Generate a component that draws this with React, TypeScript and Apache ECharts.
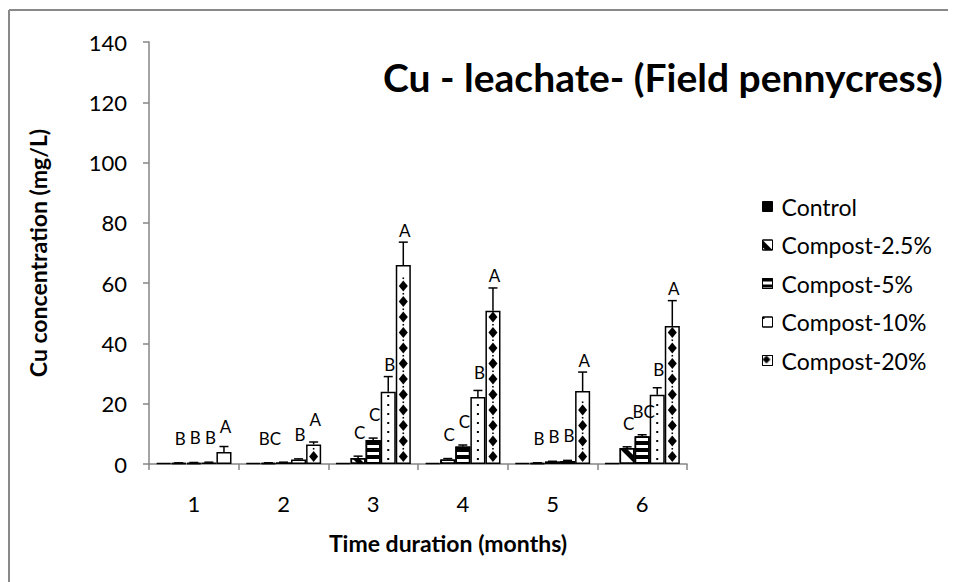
import React, { useEffect, useRef } from 'react';
import * as echarts from 'echarts';

const categories = ['1', '2', '3', '4', '5', '6'];
const seriesNames = ['Control', 'Compost-2.5%', 'Compost-5%', 'Compost-10%', 'Compost-20%'];
const yTicks = { min: 0, max: 140, interval: 20 };

const control = [0.3, 0.3, 0.3, 0.3, 0.3, 0.3];
const compost25 = [0.3, 0.3, 2.0, 1.5, 0.3, 5.3];
const compost5 = [0.4, 0.5, 8.0, 5.8, 0.8, 9.2];
const compost10 = [0.5, 1.5, 24.0, 22.2, 1.0, 23.0];
const compost20 = [4.0, 6.5, 66.0, 50.8, 24.2, 45.8];

const errControl = [0, 0, 0, 0, 0, 0];
const err25 = [0.1, 0.1, 0.6, 0.3, 0.1, 0.4];
const err5 = [0.1, 0.1, 0.6, 0.5, 0.1, 0.5];
const err10 = [0.1, 0.2, 5.0, 2.2, 0.2, 2.3];
const err20 = [1.8, 0.8, 7.6, 7.6, 6.3, 8.4];

const letControl = ['', '', '', '', '', ''];
const let25 = ['B', 'BC', 'C', 'C', 'B', 'C'];
const let5 = ['B', '', 'C', 'C', 'B', 'BC'];
const let10 = ['B', 'B', 'B', 'B', 'B', 'B'];
const let20 = ['A', 'A', 'A', 'A', 'A', 'A'];

const values = [control, compost25, compost5, compost10, compost20];
const errors = [errControl, err25, err5, err10, err20];
const letters = [letControl, let25, let5, let10, let20];

const FONT = 'Lato';
const CAT_GAP = 0.16;

export default function App() {
  const ref = useRef<HTMLDivElement>(null);
  useEffect(() => {
    if (!ref.current) return;
    const chart = echarts.init(ref.current, null, { renderer: 'svg' });

    const decals: any[] = [
      null,
      { symbol: 'rect', symbolSize: 1, dashArrayX: [1, 0], dashArrayY: [5, 9], rotation: Math.PI / 4, color: '#000' },
      { symbol: 'rect', symbolSize: 1, dashArrayX: [1, 0], dashArrayY: [4, 3], rotation: 0, color: '#000' },
      null,
      null,
    ];
    const legendDecals: any[] = [
      null,
      decals[1],
      { symbol: 'rect', symbolSize: 1, dashArrayX: [1, 0], dashArrayY: [3, 3], rotation: 0, color: '#000' },
      { symbol: 'rect', symbolSize: 1, dashArrayX: [2, 8], dashArrayY: [2, 8], rotation: 0, color: '#000' },
      { symbol: 'diamond', symbolSize: 1, dashArrayX: [8, 2], dashArrayY: [8, 2], rotation: 0, color: '#000' },
    ];

    const barSeries = seriesNames.map((name, i) => ({
      name,
      type: 'bar',
      barGap: '0%',
      barCategoryGap: CAT_GAP * 100 + '%',
      data: values[i],
      itemStyle: {
        color: i === 0 ? '#000' : '#fff',
        borderColor: '#000',
        borderWidth: 1.5,
        ...(decals[i] ? { decal: decals[i] } : {}),
      },
      z: 2,
    }));

    const errData: number[][] = [];
    for (let s = 0; s < values.length; s++) {
      for (let c = 0; c < categories.length; c++) {
        errData.push([c, values[s][c], errors[s][c], s]);
      }
    }

    const errSeries = {
      name: 'errors',
      type: 'custom',
      z: 5,
      clip: false,
      encode: { x: 0, y: 1 },
      data: errData,
      renderItem: (params: any, api: any) => {
        const cat = api.value(0);
        const v = api.value(1);
        const e = api.value(2);
        const s = api.value(3);
        const center = api.coord([cat, 0]);
        const base = center[1];
        const band = api.size([1, 0])[0];
        const total = band * (1 - CAT_GAP);
        const w = total / values.length;
        const x = center[0] - total / 2 + w * (s + 0.5);
        const yTop = api.coord([cat, v])[1];
        const yErr = api.coord([cat, v + e])[1];
        const children: any[] = [];
        // fill patterns drawn inside the bar
        if (s === 4) {
          const period = 15.5;
          for (let cy = base - 7.5; cy - 5 >= yTop + 1; cy -= period) {
            children.push({
              type: 'polygon',
              shape: { points: [[x, cy - 5.5], [x + 4.5, cy], [x, cy + 5.5], [x - 4.5, cy]] },
              style: { fill: '#000' },
            });
            const dy = cy - period / 2;
            if (dy - 1 > yTop + 1) {
              children.push({ type: 'rect', shape: { x: x - 0.8, y: dy - 0.8, width: 1.6, height: 1.6 }, style: { fill: '#000' } });
            }
          }
        } else if (s === 3) {
          for (let cy = base - 5; cy - 1 >= yTop + 3; cy -= 9) {
            children.push({ type: 'rect', shape: { x: x - 1, y: cy - 1, width: 2, height: 2 }, style: { fill: '#000' } });
          }
        }
        if (e > 0) {
          children.push({ type: 'line', shape: { x1: x, y1: yTop, x2: x, y2: yErr }, style: { stroke: '#000', lineWidth: 1.5 } });
          children.push({ type: 'line', shape: { x1: x - 4.5, y1: yErr, x2: x + 4.5, y2: yErr }, style: { stroke: '#000', lineWidth: 1.5 } });
        }
        const lab = letters[s][cat];
        if (lab) {
          children.push({
            type: 'text',
            x: x + 1.5,
            y: Math.min(yTop - 25, yErr - 12),
            style: { text: lab, fill: '#000', fontSize: 17, fontFamily: FONT, align: 'center', verticalAlign: 'middle' },
          });
        }
        return { type: 'group', children };
      },
    };

    chart.setOption({
      animation: false,
      backgroundColor: '#fff',
      title: {
        text: 'Cu - leachate- (Field pennycress)',
        left: 378,
        top: 52,
        textStyle: { fontFamily: FONT, fontWeight: 'bold', fontSize: 39, color: '#000' },
      },
      legend: {
        data: seriesNames.map((name, i) => ({
          name,
          itemStyle: legendDecals[i] ? { decal: legendDecals[i] } : {},
        })),
        orient: 'vertical',
        left: 757,
        top: 190,
        icon: 'rect',
        itemWidth: 10,
        itemHeight: 10,
        itemGap: 15.5,
        itemStyle: { borderWidth: 1, borderColor: '#000' },
        textStyle: { fontFamily: FONT, fontSize: 23, color: '#000', padding: [0, 0, 0, 4] },
      },
      grid: { left: 149, top: 42, width: 538, height: 422 },
      xAxis: {
        type: 'category',
        data: categories,
        axisLine: { lineStyle: { color: '#868686', width: 1.5 } },
        axisTick: { show: true, length: 6, lineStyle: { color: '#868686', width: 1.5 } },
        axisLabel: { fontFamily: FONT, fontSize: 22, color: '#000', margin: 28 },
      },
      yAxis: {
        type: 'value',
        min: yTicks.min,
        max: yTicks.max,
        interval: yTicks.interval,
        name: 'Cu concentration (mg/L)',
        nameLocation: 'middle',
        nameGap: 100,
        nameTextStyle: { fontFamily: FONT, fontWeight: 'bold', fontSize: 23, color: '#000' },
        axisLine: { show: true, lineStyle: { color: '#868686', width: 1.5 } },
        axisTick: { show: true, length: 6, lineStyle: { color: '#868686', width: 1.5 } },
        axisLabel: { fontFamily: FONT, fontSize: 22, color: '#000', margin: 22 },
        splitLine: { show: false },
      },
      graphic: [
        { type: 'line', shape: { x1: 9, y1: 10, x2: 9, y2: 582 }, style: { stroke: '#898989', lineWidth: 2 } },
        { type: 'line', shape: { x1: 9, y1: 10, x2: 948, y2: 10 }, style: { stroke: '#898989', lineWidth: 2 } },
        {
          type: 'text',
          x: 448,
          y: 543,
          style: {
            text: 'Time duration (months)',
            fill: '#000',
            fontFamily: FONT,
            fontWeight: 'bold',
            fontSize: 23,
            align: 'center',
            verticalAlign: 'middle',
          },
        },
      ],
      series: [...barSeries, errSeries],
    });

    return () => chart.dispose();
  }, []);
  return <div ref={ref} style={{ position: 'absolute', left: 0, top: 0, width: 956, height: 582, background: '#fff' }} />;
}
